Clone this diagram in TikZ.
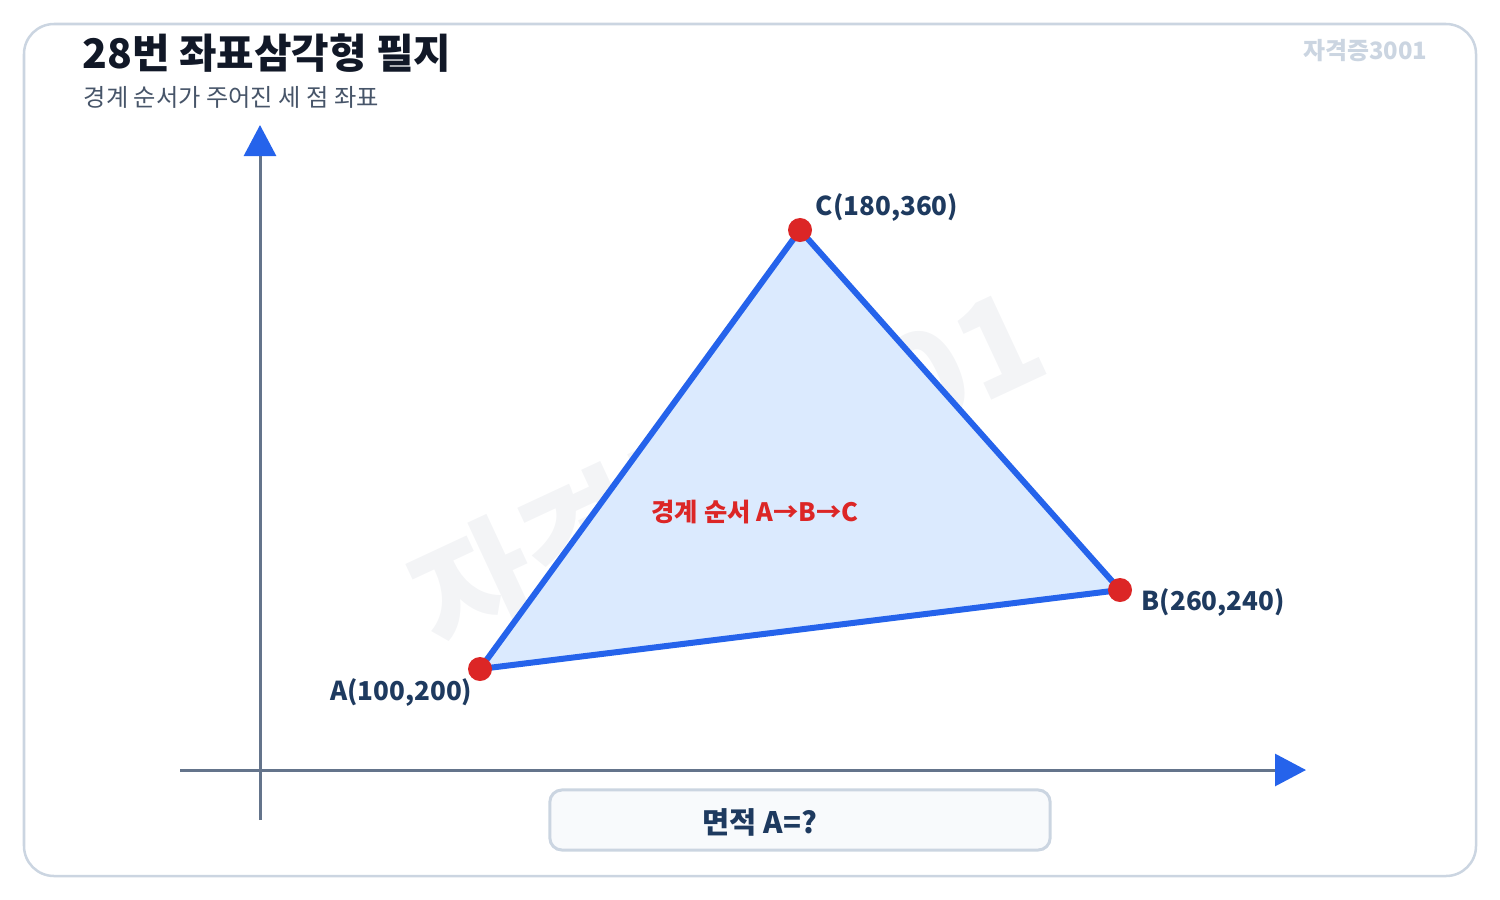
\documentclass[tikz,border=0pt]{standalone}
\usepackage{fontspec}
\setmainfont{Noto Sans CJK KR}
\usetikzlibrary{arrows.meta}

\begin{document}
\begin{tikzpicture}[x=0.01cm,y=-0.01cm]
\definecolor{frameline}{HTML}{CBD5E1}
\definecolor{axisgray}{HTML}{64748B}
\definecolor{axisblue}{HTML}{2563EB}
\definecolor{trifill}{HTML}{DBEAFE}
\definecolor{ptred}{HTML}{DC2626}
\definecolor{lblnavy}{HTML}{1E3A5F}
\definecolor{titleink}{HTML}{111827}
\definecolor{subink}{HTML}{475569}
\definecolor{wmgray}{HTML}{F3F4F6}
\definecolor{boxfill}{HTML}{F8FAFC}
\tikzset{
  ptlabel/.style={font=\fontsize{7.4}{9}\selectfont\bfseries,text=lblnavy,inner sep=0pt},
  axisline/.style={draw=axisgray,line width=0.03cm,-{Triangle[color=axisblue,length=0.31cm,width=0.32cm]}}
}
\useasboundingbox (0,0) rectangle (1500,900);

\draw[frameline,line width=0.025cm,rounded corners=0.3cm] (24,24) rectangle (1476,876);

\node[anchor=base west,inner sep=0pt,text=titleink,font=\fontsize{11.6}{13}\selectfont\bfseries] (title) at (82,68) {28번 좌표삼각형 필지};
\node[anchor=base west,inner sep=0pt,text=subink,font=\fontsize{6.9}{8}\selectfont] (subtitle) at (83,106) {경계 순서가 주어진 세 점 좌표};
\node[anchor=base east,inner sep=0pt,text=frameline,font=\fontsize{6.8}{8}\selectfont\bfseries] (tag) at (1428,59) {자격증3001};

% big watermark below the triangle
\node[rotate=25,text=wmgray,font=\fontsize{37}{40}\selectfont\bfseries] (wm) at (727,470) {자격증3001};

% axes
\coordinate (ybot) at (260,820);
\coordinate (ytop) at (260,125);
\coordinate (xleft) at (180,770);
\coordinate (xright) at (1306,770);
\draw[axisline] (ybot) -- (ytop);
\draw[axisline] (xleft) -- (xright);

% triangle A -> B -> C
\coordinate (A) at (480,669);
\coordinate (B) at (1120,590);
\coordinate (C) at (800,230);
\draw[fill=trifill,draw=axisblue,line width=0.06cm,line join=round] (A) -- (B) -- (C) -- cycle;

\fill[ptred] (A) circle (0.12cm);
\fill[ptred] (B) circle (0.12cm);
\fill[ptred] (C) circle (0.12cm);

\node[ptlabel,anchor=west] (Clbl) at (815,208) {C(180,360)};
\node[ptlabel,anchor=east] (Albl) at (473,693) {A(100,200)};
\node[ptlabel,anchor=west] (Blbl) at (1141,603) {B(260,240)};

\node[text=ptred,font=\fontsize{7.2}{9}\selectfont\bfseries] (order) at (755,512) {경계 순서 A→B→C};

% answer box
\node[draw=frameline,fill=boxfill,line width=0.03cm,rounded corners=0.12cm,minimum width=5cm,minimum height=0.6cm] (areabox) at (800,820) {};
\node[ptlabel,font=\fontsize{8.4}{10}\selectfont\bfseries] (area) at (760,822) {면적 A=?};
\end{tikzpicture}
\end{document}
